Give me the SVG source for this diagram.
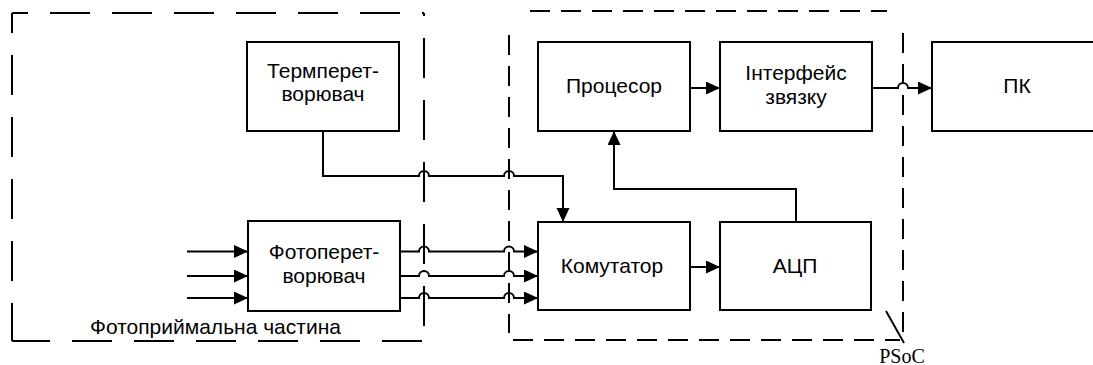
<svg xmlns="http://www.w3.org/2000/svg" width="1093" height="365" viewBox="0 0 1093 365">
<defs>
<marker id="arr" markerUnits="userSpaceOnUse" markerWidth="15" markerHeight="14" refX="14" refY="6.5" orient="auto"><path d="M0,0 L14,6.5 L0,13 z" fill="#000"/></marker>
<style>
.box{fill:#fff;stroke:#000;stroke-width:2}
.t{font-family:"Liberation Sans",Arial,sans-serif;font-size:21px;fill:#000;text-anchor:middle}
.c{fill:none;stroke:#000;stroke-width:2}
.a{marker-end:url(#arr)}
.d1{fill:none;stroke:#000;stroke-width:2;stroke-dasharray:40 22}
.d2{fill:none;stroke:#000;stroke-width:2;stroke-dasharray:20 11}
</style>
</defs>
<rect width="1093" height="365" fill="#fff"/>
<g id="photo-part">
<line class="d1" x1="12" y1="13" x2="424" y2="13" stroke-dashoffset="24"/>
<line class="d1" x1="12" y1="13" x2="12" y2="341" stroke-dashoffset="20"/>
<line class="d1" x1="12" y1="341" x2="424" y2="341" stroke-dashoffset="2"/>
<line class="d1" x1="424" y1="13" x2="424" y2="341" stroke-dashoffset="37"/>
<text class="t" x="90" y="334" style="text-anchor:start">Фотоприймальна частина</text>
</g>
<g id="psoc">
<line class="d2" x1="530" y1="11" x2="887" y2="11"/>
<line class="d2" x1="509" y1="35" x2="509" y2="333"/>
<line class="d2" x1="513" y1="340" x2="900" y2="340"/>
<line class="d2" x1="903" y1="33" x2="903" y2="333"/>
<line class="c" x1="886" y1="311" x2="904" y2="343"/>
<text x="902" y="363" style="font-family:'Liberation Serif','Times New Roman',serif;font-size:20px;text-anchor:middle">PSoC</text>
</g>
<g id="connectors">
<path class="c a" d="M323,131 V176 H419 a5,5 0 0 1 10,0 H504 a5,5 0 0 1 10,0 H563 V222"/>
<path class="c a" d="M400,251.5 H419 a5,5 0 0 1 10,0 H504 a5,5 0 0 1 10,0 H538"/>
<path class="c a" d="M400,276 H419 a5,5 0 0 1 10,0 H504 a5,5 0 0 1 10,0 H538"/>
<path class="c a" d="M400,298 H419 a5,5 0 0 1 10,0 H504 a5,5 0 0 1 10,0 H538"/>
<path class="c a" d="M187,251.5 H248"/>
<path class="c a" d="M187,276 H248"/>
<path class="c a" d="M187,298 H248"/>
<path class="c a" d="M690,267 H720"/>
<path class="c a" d="M796,222 V189 H614 V131"/>
<path class="c a" d="M690,88 H720"/>
<path class="c a" d="M872,88 H898 a5,5 0 0 1 10,0 H932"/>
</g>
<g id="thermo">
<rect class="box" x="247" y="42" width="152" height="89"/>
<text class="t" x="323" y="78">Термперет-</text>
<text class="t" x="323" y="101">ворювач</text>
</g>
<g id="photoconv">
<rect class="box" x="248" y="221" width="152" height="90"/>
<text class="t" x="324" y="259">Фотоперет-</text>
<text class="t" x="324" y="283">ворювач</text>
</g>
<g id="cpu">
<rect class="box" x="538" y="42" width="152" height="89"/>
<text class="t" x="614" y="93">Процесор</text>
</g>
<g id="iface">
<rect class="box" x="720" y="42" width="152" height="89"/>
<text class="t" x="796" y="80">Інтерфейс</text>
<text class="t" x="796" y="104">звязку</text>
</g>
<g id="pc">
<rect class="box" x="932" y="42" width="170" height="89"/>
<text class="t" x="1017" y="93">ПК</text>
</g>
<g id="mux">
<rect class="box" x="538" y="222" width="152" height="88"/>
<text class="t" x="612" y="273">Комутатор</text>
</g>
<g id="adc">
<rect class="box" x="720" y="222" width="151" height="88"/>
<text class="t" x="795" y="273">АЦП</text>
</g>
</svg>
